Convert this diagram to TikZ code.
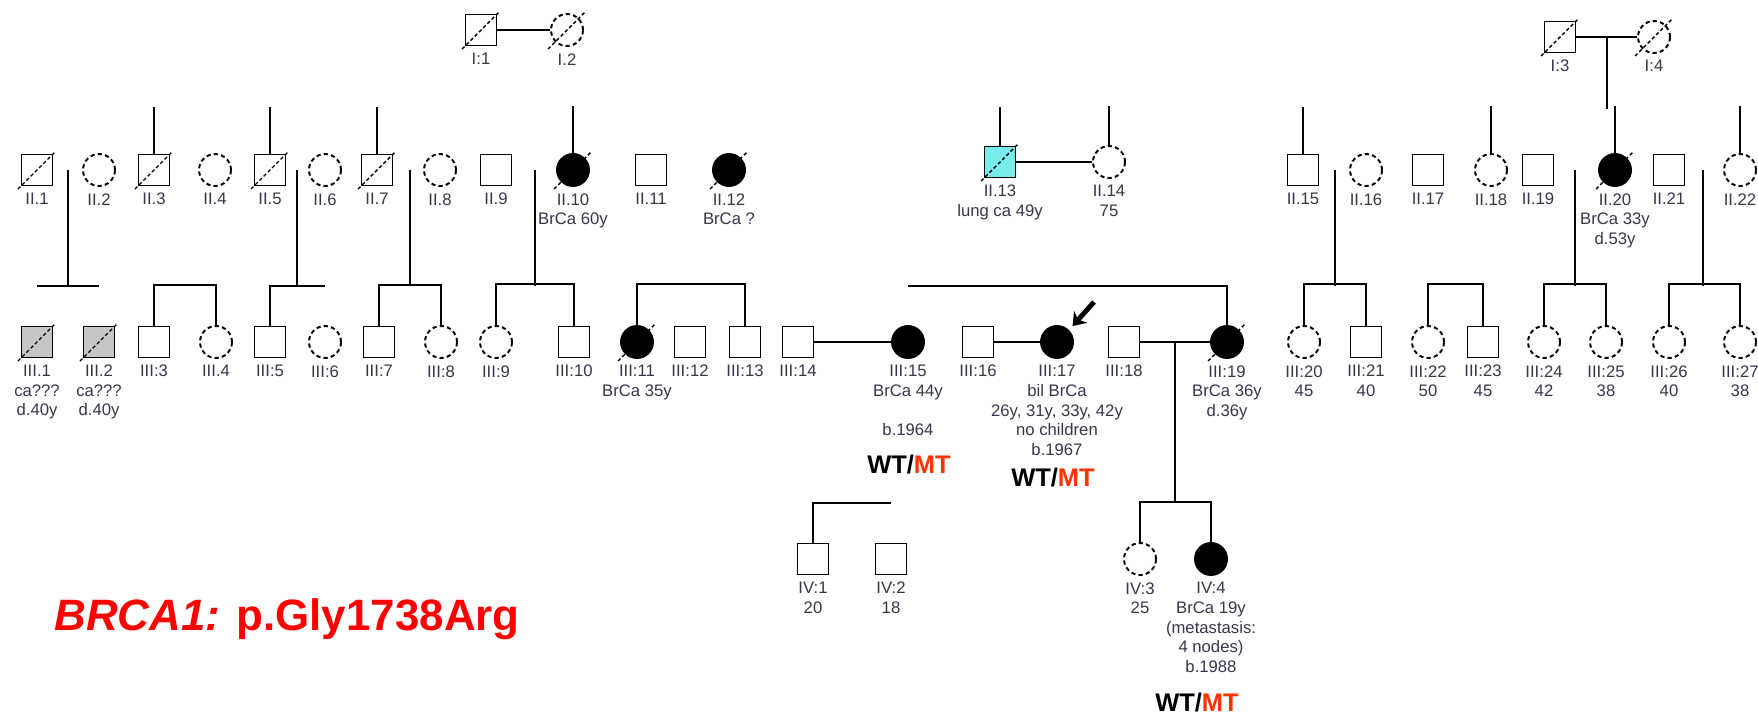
\documentclass[tikz,border=0pt]{standalone}
\usepackage{fontspec}
\setmainfont{Liberation Sans}
\usetikzlibrary{arrows.meta, positioning, calc}
\definecolor{mtred}{RGB}{255,51,0}
\definecolor{idgray}{RGB}{55,55,75}
\definecolor{lungcyan}{RGB}{120,235,235}
\tikzstyle{male} = [rectangle, draw=black, line width=1.1pt, minimum size=0.62cm, inner sep=0pt, fill=white]
\tikzstyle{female} = [circle, draw=black, line width=1.1pt, minimum size=0.64cm, inner sep=0pt, fill=white]
\tikzstyle{femdash} = [female, dash pattern=on 2.4pt off 1.8pt]
\tikzstyle{affected} = [fill=black]
\tikzstyle{pline} = [line width=1.1pt]
\tikzstyle{deceased} = [line width=0.8pt, dash pattern=on 2pt off 1.4pt]
\tikzstyle{idtext} = [align=center, inner sep=0pt, text=idgray, font=\fontsize{9.5}{11.2}\selectfont]
\tikzstyle{geno} = [inner sep=0pt, font=\fontsize{14.5}{16}\selectfont\bfseries]
\tikzstyle{proband} = [line width=2.8pt, -{Stealth[length=7pt, width=10pt]}]

\begin{document}
\begin{tikzpicture}[x=0.02cm, y=-0.02cm, node distance=3.5pt]
      \fill[white] (0,0) rectangle (1758,720);
      \useasboundingbox (0,0) rectangle (1758,720);

      % Generation I
      \node[male] (I1) at (481,30) {};
      \node[femdash] (I2) at (567,30) {};
      \node[male] (I3) at (1560,37) {};
      \node[femdash] (I4) at (1654,37) {};

      % Generation II
      \node[male] (II1) at (37,170) {};
      \node[femdash] (II2) at (99,170) {};
      \node[male] (II3) at (154,170) {};
      \node[femdash] (II4) at (215,170) {};
      \node[male] (II5) at (270,170) {};
      \node[femdash] (II6) at (325,170) {};
      \node[male] (II7) at (377,170) {};
      \node[femdash] (II8) at (440,170) {};
      \node[male] (II9) at (496,170) {};
      \node[female, affected] (II10) at (573,170) {};
      \node[male] (II11) at (651,170) {};
      \node[female, affected] (II12) at (729,170) {};
      \node[male, fill=lungcyan] (II13) at (1000,162) {};
      \node[femdash] (II14) at (1109,162) {};
      \node[male] (II15) at (1303,170) {};
      \node[femdash] (II16) at (1366,170) {};
      \node[male] (II17) at (1428,170) {};
      \node[femdash] (II18) at (1491,170) {};
      \node[male] (II19) at (1538,170) {};
      \node[female, affected] (II20) at (1615,170) {};
      \node[male] (II21) at (1669,170) {};
      \node[femdash] (II22) at (1740,170) {};

      % Generation III
      \node[male, fill=gray!45] (III1) at (37,342) {};
      \node[male, fill=gray!45] (III2) at (99,342) {};
      \node[male] (III3) at (154,342) {};
      \node[femdash] (III4) at (216,342) {};
      \node[male] (III5) at (270,342) {};
      \node[femdash] (III6) at (325,342) {};
      \node[male] (III7) at (379,342) {};
      \node[femdash] (III8) at (441,342) {};
      \node[femdash] (III9) at (496,342) {};
      \node[male] (III10) at (574,342) {};
      \node[female, affected] (III11) at (637,342) {};
      \node[male] (III12) at (690,342) {};
      \node[male] (III13) at (745,342) {};
      \node[male] (III14) at (798,342) {};
      \node[female, affected] (III15) at (908,342) {};
      \node[male] (III16) at (978,342) {};
      \node[female, affected] (III17) at (1057,342) {};
      \node[male] (III18) at (1124,342) {};
      \node[female, affected] (III19) at (1227,342) {};
      \node[femdash] (III20) at (1304,342) {};
      \node[male] (III21) at (1366,342) {};
      \node[femdash] (III22) at (1428,342) {};
      \node[male] (III23) at (1483,342) {};
      \node[femdash] (III24) at (1544,342) {};
      \node[femdash] (III25) at (1606,342) {};
      \node[femdash] (III26) at (1669,342) {};
      \node[femdash] (III27) at (1740,342) {};

      % Generation IV
      \node[male] (IV1) at (813,559) {};
      \node[male] (IV2) at (891,559) {};
      \node[femdash] (IV3) at (1140,559) {};
      \node[female, affected] (IV4) at (1211,559) {};

      % Deceased
      \foreach \p in {I1,I2,I3,I4,II1,II3,II5,II7,II10,II12,II13,II20,III1,III2,III11,III19}
        \draw[deceased] ($(\p.center)+(-19,19)$) -- ($(\p.center)+(19,-19)$);

      % Labels
      \node[idtext, below=of I1] (tI1) {I:1};
      \node[idtext, below=of I2] (tI2) {I.2};
      \node[idtext, below=of I3] (tI3) {I:3};
      \node[idtext, below=of I4] (tI4) {I:4};

      \node[idtext, below=of II1] (tII1) {II.1};
      \node[idtext, below=of II2] (tII2) {II.2};
      \node[idtext, below=of II3] (tII3) {II.3};
      \node[idtext, below=of II4] (tII4) {II.4};
      \node[idtext, below=of II5] (tII5) {II.5};
      \node[idtext, below=of II6] (tII6) {II.6};
      \node[idtext, below=of II7] (tII7) {II.7};
      \node[idtext, below=of II8] (tII8) {II.8};
      \node[idtext, below=of II9] (tII9) {II.9};
      \node[idtext, below=of II10] (tII10) {II.10\\BrCa 60y};
      \node[idtext, below=of II11] (tII11) {II.11};
      \node[idtext, below=of II12] (tII12) {II.12\\BrCa ?};
      \node[idtext, below=of II13] (tII13) {II.13\\lung ca 49y};
      \node[idtext, below=of II14] (tII14) {II.14\\75};
      \node[idtext, below=of II15] (tII15) {II.15};
      \node[idtext, below=of II16] (tII16) {II.16};
      \node[idtext, below=of II17] (tII17) {II.17};
      \node[idtext, below=of II18] (tII18) {II.18};
      \node[idtext, below=of II19] (tII19) {II.19};
      \node[idtext, below=of II20] (tII20) {II.20\\BrCa 33y\\d.53y};
      \node[idtext, below=of II21] (tII21) {II.21};
      \node[idtext, below=of II22] (tII22) {II.22};

      \node[idtext, below=of III1] (tIII1) {III.1\\ca???\\d.40y};
      \node[idtext, below=of III2] (tIII2) {III.2\\ca???\\d.40y};
      \node[idtext, below=of III3] (tIII3) {III:3};
      \node[idtext, below=of III4] (tIII4) {III.4};
      \node[idtext, below=of III5] (tIII5) {III:5};
      \node[idtext, below=of III6] (tIII6) {III:6};
      \node[idtext, below=of III7] (tIII7) {III:7};
      \node[idtext, below=of III8] (tIII8) {III:8};
      \node[idtext, below=of III9] (tIII9) {III:9};
      \node[idtext, below=of III10] (tIII10) {III:10};
      \node[idtext, below=of III11] (tIII11) {III:11\\BrCa 35y};
      \node[idtext, below=of III12] (tIII12) {III:12};
      \node[idtext, below=of III13] (tIII13) {III:13};
      \node[idtext, below=of III14] (tIII14) {III:14};
      \node[idtext, below=of III15] (tIII15) {III:15\\BrCa 44y\\[11pt]b.1964};
      \node[idtext, below=of III16] (tIII16) {III:16};
      \node[idtext, below=of III17] (tIII17) {III:17\\bil BrCa\\26y, 31y, 33y, 42y\\no children\\b.1967};
      \node[idtext, below=of III18] (tIII18) {III:18};
      \node[idtext, below=of III19] (tIII19) {III:19\\BrCa 36y\\d.36y};
      \node[idtext, below=of III20] (tIII20) {III:20\\45};
      \node[idtext, below=of III21] (tIII21) {III:21\\40};
      \node[idtext, below=of III22] (tIII22) {III:22\\50};
      \node[idtext, below=of III23] (tIII23) {III:23\\45};
      \node[idtext, below=of III24] (tIII24) {III:24\\42};
      \node[idtext, below=of III25] (tIII25) {III:25\\38};
      \node[idtext, below=of III26] (tIII26) {III:26\\40};
      \node[idtext, below=of III27] (tIII27) {III:27\\38};

      \node[idtext, below=of IV1] (tIV1) {IV:1\\20};
      \node[idtext, below=of IV2] (tIV2) {IV:2\\18};
      \node[idtext, below=of IV3] (tIV3) {IV:3\\25};
      \node[idtext, below=of IV4] (tIV4) {IV:4\\BrCa 19y\\(metastasis:\\4 nodes)\\b.1988};

      % Genotypes and variant
      \node[geno] (gIII15) at (909,465) {WT/\textcolor{mtred}{MT}};
      \node[geno] (gIII17) at (1053,478) {WT/\textcolor{mtred}{MT}};
      \node[geno] (gIV4) at (1197,703) {WT/\textcolor{mtred}{MT}};
      \node[anchor=west, inner sep=0pt, text=red, font=\fontsize{25}{29}\selectfont\bfseries] (gene) at (54,619) {\textit{BRCA1:} p.Gly1738Arg};

      % Couples
      \draw[pline] (I1) -- (I2);
      \draw[pline] (I3) -- (I4);
      \draw[pline] (II13) -- (II14);
      \draw[pline] (III14) -- (III15);
      \draw[pline] (III16) -- (III17);
      \draw[pline] (III18) -- (III19);

      % Lines to parents
      \coordinate (mI34) at ($(I3.east)!0.5!(I4.west)$);
      \draw[pline] (mI34) -- ++(0,72);
      \foreach \p in {II3,II5,II7,II10,II15,II18,II20,II22}
        \draw[pline] (\p.north) -- ++(0,-47);
      \draw[pline] (II13.north) -- ++(0,-39);
      \draw[pline] (II14.north) -- ++(0,-39);

      % Sibships of generation III
      \coordinate (sA) at (68,286);
      \coordinate (sC) at (297,286);
      \coordinate (sD) at (410,286);
      \coordinate (sE) at (535,286);
      \coordinate (sH) at (1335,286);
      \coordinate (sJ) at (1575,286);
      \coordinate (sK) at (1703,286);
      \foreach \s in {sA,sC,sD,sE,sH,sJ,sK}
        \draw[pline] (\s) -- ++(0,-116);
      \draw[pline] (III1.north |- sA) -- (III2.north |- sA);
      \draw[pline] (III3.north) -- ++(0,-41) -| (III4.north);
      \draw[pline] (III5.north) |- (III6.north |- sA);
      \draw[pline] (III7.north) -- ++(0,-41) -| (III8.north);
      \draw[pline] (III9.north) -- ++(0,-41) -| (III10.north);
      \draw[pline] (III11.north) -- ++(0,-41) -| (III13.north);
      \draw[pline] (III19.north) |- (III15.north |- sA);
      \draw[pline] (III20.north) -- ++(0,-41) -| (III21.north);
      \draw[pline] (III22.north) -- ++(0,-41) -| (III23.north);
      \draw[pline] (III24.north) -- ++(0,-41) -| (III25.north);
      \draw[pline] (III26.north) -- ++(0,-41) -| (III27.north);

      % Generation IV
      \coordinate (m1819) at ($(III18.east)!0.5!(III19.west)$);
      \draw[pline] (m1819) -- ++(0,161);
      \draw[pline] (IV3.north) -- ++(0,-40) -| (IV4.north);
      \draw[pline] (IV1.north) -- ++(0,-40) -- ++(78,0);

      % Proband
      \coordinate (prb) at (1094,302);
      \draw[proband, shorten >=3pt] (prb) -- (III17.north east);
\end{tikzpicture}
\end{document}
